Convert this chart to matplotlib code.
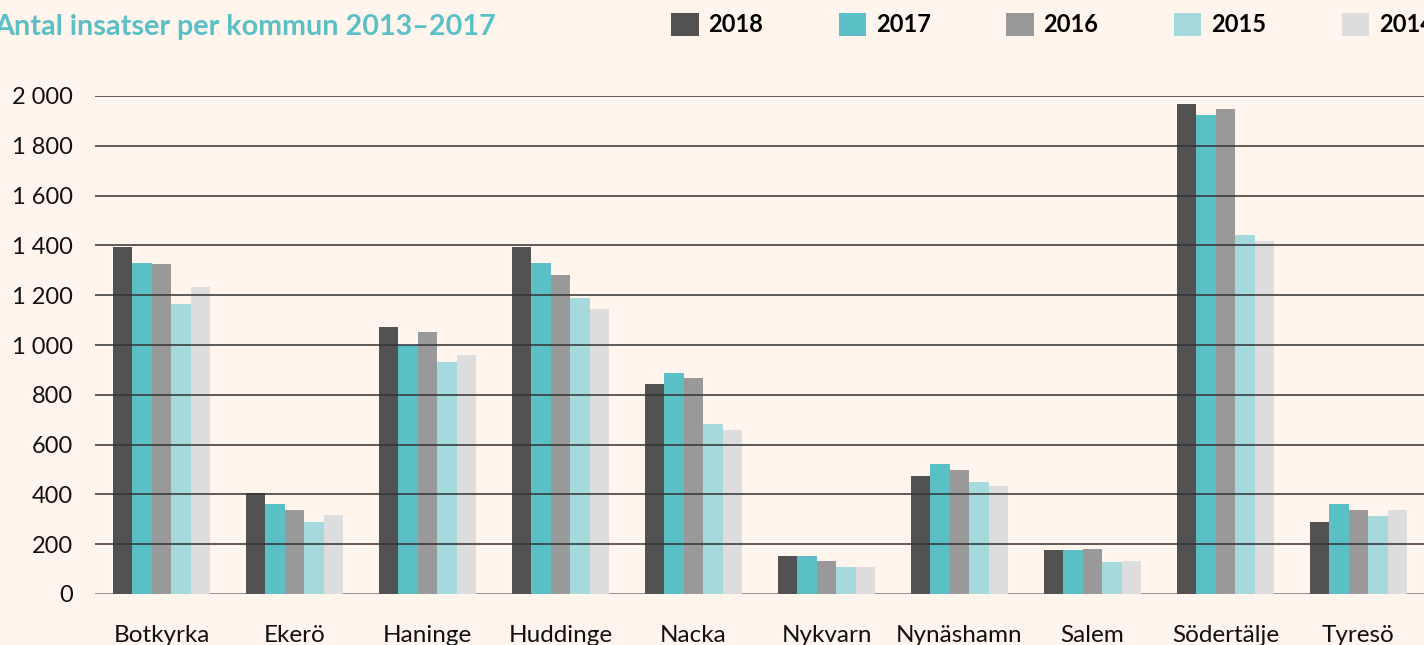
import numpy as np
import matplotlib
matplotlib.use("Agg")
import matplotlib.pyplot as plt
from matplotlib.patches import Patch

# Data
kommuner = ["Botkyrka", "Ekerö", "Haninge", "Huddinge", "Nacka",
            "Nykvarn", "Nynäshamn", "Salem", "Södertälje", "Tyresö"]
years = ["2018", "2017", "2016", "2015", "2014"]
v2018 = [1395, 405, 1072, 1395, 843, 153, 474, 177, 1968, 289]
v2017 = [1329, 361, 1000, 1329, 888, 153, 522, 177, 1924, 361]
v2016 = [1325, 337, 1052, 1281, 867, 133, 498, 181, 1948, 337]
v2015 = [1165, 289, 932, 1189, 683, 108, 450, 129, 1442, 313]
v2014 = [1233, 317, 960, 1145, 659, 108, 434, 133, 1418, 337]
yticks = [0, 200, 400, 600, 800, 1000, 1200, 1400, 1600, 1800, 2000]
ytick_labels = ["0", "200", "400", "600", "800", "1 000", "1 200",
                "1 400", "1 600", "1 800", "2 000"]

colors = ["#525252", "#5ac0c6", "#999999", "#a5d9dc", "#dddddd"]
bg = "#fff5ec"

plt.rcParams["font.family"] = ["Lato", "DejaVu Sans"]

fig = plt.figure(figsize=(14.24, 6.45), dpi=100, facecolor=bg)
ax = fig.add_axes([95 / 1424, 1 - 594 / 645, 1330 / 1424, 498 / 645])
ax.set_facecolor(bg)

series = [v2018, v2017, v2016, v2015, v2014]
x = np.arange(len(kommuner))
w = 0.147
for i, vals in enumerate(series):
    ax.bar(x + (i - 2) * w, vals, width=w, color=colors[i], zorder=2, linewidth=0)

ax.set_xlim(-0.5, len(kommuner) - 0.5)
ax.set_ylim(0, 2000)
ax.set_yticks(yticks)
ax.set_yticklabels(ytick_labels)
ax.set_xticks(x)
ax.set_xticklabels(kommuner)
ax.tick_params(axis="both", length=0, colors="#111111")
ax.tick_params(axis="y", pad=16, labelsize=17)
ax.tick_params(axis="x", pad=22, labelsize=17.5)

for t in yticks:
    ax.axhline(t, color="#333333" if t else "#777777", lw=1.3, zorder=3 if t else 1, alpha=0.85)
for s in ax.spines.values():
    s.set_visible(False)

fig.text(-0.004, 0.958, "Antal insatser per kommun 2013–2017", color="#5ac0c6",
         fontsize=20.7, fontweight="bold", va="center", ha="left")

handles = [Patch(facecolor=c, edgecolor="none") for c in colors]
leg = fig.legend(handles, years, loc="center left", bbox_to_anchor=(662 / 1424, 0.962),
                 ncol=5, frameon=False, handlelength=1.15, handleheight=1.15,
                 handletextpad=0.42, columnspacing=3.2, borderaxespad=0,
                 prop={"size": 17, "weight": "bold"})

fig.savefig("out.png", dpi=100, facecolor=bg)
